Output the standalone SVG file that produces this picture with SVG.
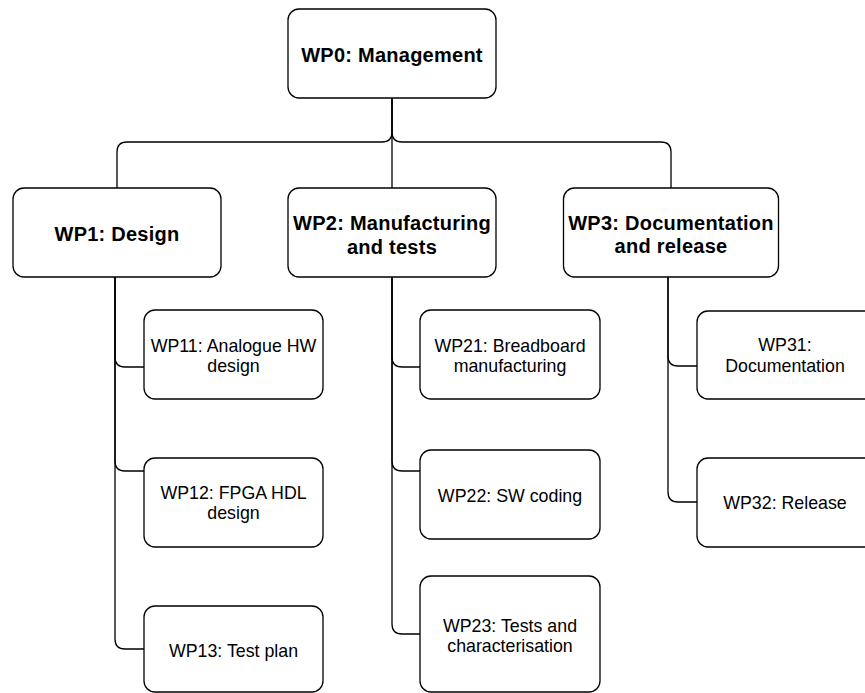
<svg xmlns="http://www.w3.org/2000/svg" width="865" height="693" viewBox="0 0 865 693">
  <style>
    .box { fill: #ffffff; stroke: #000000; stroke-width: 1.3; }
    .wire { fill: none; stroke: #000000; stroke-width: 1.3; }
    .t { font-family: "Liberation Sans", Arial, sans-serif; fill: #000000; text-anchor: middle; }
    .bold { font-size: 20px; font-weight: bold; letter-spacing: 0.25px; }
    .reg { font-size: 17.8px; }
  </style>
  <rect width="865" height="693" fill="#ffffff"/>

  <!-- connectors -->
  <g id="connectors">
    <path class="wire" d="M392 98 V132 Q392 142 382 142 H127 Q117 142 117 152 V188"/>
    <path class="wire" d="M392 98 V188"/>
    <path class="wire" d="M392 98 V132 Q392 142 402 142 H661 Q671 142 671 152 V188"/>

    <path class="wire" d="M115 277 V357 Q115 367 125 367 H144"/>
    <path class="wire" d="M115 277 V461 Q115 471 125 471 H144"/>
    <path class="wire" d="M115 277 V639 Q115 649 125 649 H144"/>

    <path class="wire" d="M392 277 V357 Q392 367 402 367 H420"/>
    <path class="wire" d="M392 277 V461 Q392 471 402 471 H420"/>
    <path class="wire" d="M392 277 V624 Q392 634 402 634 H420"/>

    <path class="wire" d="M668 277 V356 Q668 366 678 366 H697"/>
    <path class="wire" d="M668 277 V492 Q668 502 678 502 H697"/>
  </g>

  <!-- top level -->
  <g id="wp0">
    <rect class="box" x="288" y="9" width="208" height="89" rx="11"/>
    <text class="t bold" x="392" y="61.5">WP0: Management</text>
  </g>

  <!-- work packages -->
  <g id="wp1">
    <rect class="box" x="13" y="188" width="208" height="89" rx="11"/>
    <text class="t bold" x="117" y="240.5">WP1: Design</text>
  </g>
  <g id="wp2">
    <rect class="box" x="288" y="188" width="208" height="89" rx="11"/>
    <text class="t bold" x="392" y="230">WP2: Manufacturing</text>
    <text class="t bold" x="392" y="253.5">and tests</text>
  </g>
  <g id="wp3">
    <rect class="box" x="563.5" y="188" width="215" height="89" rx="11"/>
    <text class="t bold" x="671" y="229.5">WP3: Documentation</text>
    <text class="t bold" x="671" y="253">and release</text>
  </g>

  <!-- WP1 sub-packages -->
  <g id="wp11">
    <rect class="box" x="144" y="310" width="179" height="89" rx="11"/>
    <text class="t reg" x="233.5" y="351.5">WP11: Analogue HW</text>
    <text class="t reg" x="233.5" y="371.5">design</text>
  </g>
  <g id="wp12">
    <rect class="box" x="144" y="458" width="179" height="89" rx="11"/>
    <text class="t reg" x="233.5" y="499">WP12: FPGA HDL</text>
    <text class="t reg" x="233.5" y="519">design</text>
  </g>
  <g id="wp13">
    <rect class="box" x="144" y="606" width="179" height="86" rx="11"/>
    <text class="t reg" x="233.5" y="656.5">WP13: Test plan</text>
  </g>

  <!-- WP2 sub-packages -->
  <g id="wp21">
    <rect class="box" x="420" y="310" width="180" height="89" rx="11"/>
    <text class="t reg" x="510" y="351.5">WP21: Breadboard</text>
    <text class="t reg" x="510" y="371.5">manufacturing</text>
  </g>
  <g id="wp22">
    <rect class="box" x="420" y="450" width="180" height="89" rx="11"/>
    <text class="t reg" x="510" y="502">WP22: SW coding</text>
  </g>
  <g id="wp23">
    <rect class="box" x="420" y="576" width="180" height="116" rx="11"/>
    <text class="t reg" x="510" y="631.5">WP23: Tests and</text>
    <text class="t reg" x="510" y="651.5">characterisation</text>
  </g>

  <!-- WP3 sub-packages -->
  <g id="wp31">
    <rect class="box" x="697" y="311" width="180" height="88" rx="11"/>
    <text class="t reg" x="785" y="351">WP31:</text>
    <text class="t reg" x="785" y="371.5">Documentation</text>
  </g>
  <g id="wp32">
    <rect class="box" x="697" y="458" width="180" height="89" rx="11"/>
    <text class="t reg" x="785" y="509">WP32: Release</text>
  </g>
</svg>
